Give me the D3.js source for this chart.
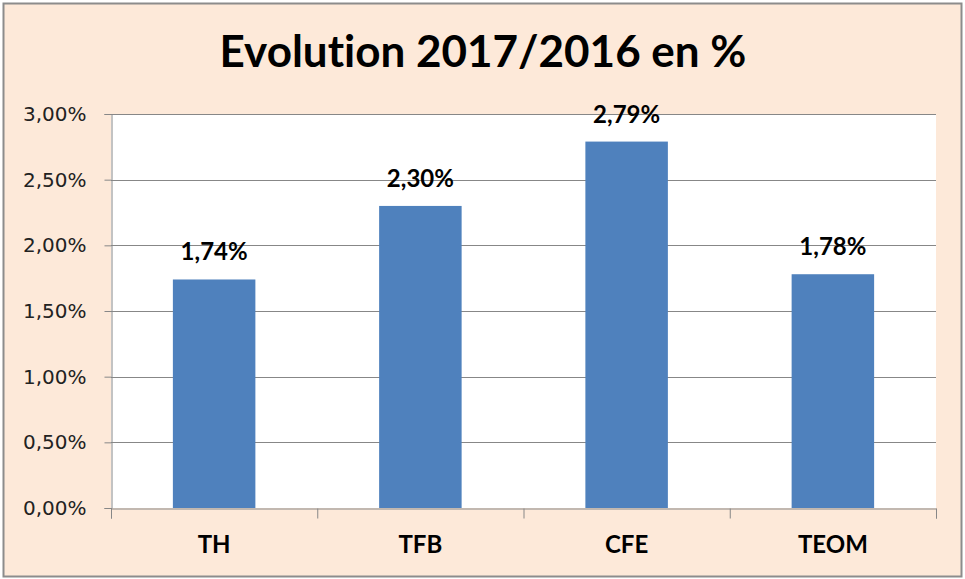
<!DOCTYPE html>
<html>
<head>
<meta charset="utf-8">
<script src="https://cdn.jsdelivr.net/npm/d3@7"></script>
<style>
  body { margin: 0; background: #fff; }
  svg { display: block; }
  text { font-variant-ligatures: none; }
</style>
</head>
<body>
<script>
var width = 965,
    height = 579;

var categories = ["TH", "TFB", "CFE", "TEOM"];
var values = [1.74, 2.30, 2.79, 1.78];
var valueLabels = ["1,74%", "2,30%", "2,79%", "1,78%"];
var yTicks = [0, 0.5, 1, 1.5, 2, 2.5, 3];
var title = "Evolution 2017/2016 en %";

var plot = { left: 111, top: 114, right: 936, bottom: 508 };

var svg = d3.select("body").append("svg")
    .attr("width", width)
    .attr("height", height);

// chart area background + border
svg.append("rect")
    .attr("x", 3.5).attr("y", 3.5)
    .attr("width", 958).attr("height", 573)
    .style("fill", "#fde9d9")
    .style("stroke", "#8c8c8c")
    .style("stroke-width", 2);

svg.append("rect")
    .attr("x", plot.left).attr("y", plot.top)
    .attr("width", plot.right - plot.left).attr("height", plot.bottom - plot.top)
    .style("fill", "#fff");

var x = d3.scaleBand()
    .domain(categories)
    .range([plot.left, plot.right])
    .paddingInner(0.6)
    .paddingOuter(0.3);

var y = d3.scaleLinear()
    .domain([0, 3])
    .range([plot.bottom, plot.top]);

// gridlines
svg.append("g").selectAll("line")
    .data(yTicks.slice(1))
    .enter().append("line")
    .attr("x1", plot.left).attr("x2", plot.right)
    .attr("y1", function (d) { return Math.round(y(d)) + 0.5; })
    .attr("y2", function (d) { return Math.round(y(d)) + 0.5; })
    .style("stroke", "#878787")
    .style("stroke-width", 1);

// bars
svg.append("g").selectAll("rect")
    .data(values)
    .enter().append("rect")
    .attr("x", function (d, i) { return x(categories[i]); })
    .attr("y", function (d) { return y(d); })
    .attr("width", x.bandwidth())
    .attr("height", function (d) { return y(0) - y(d); })
    .style("fill", "#4f81bd");

// y axis
var yAxis = svg.append("g")
    .attr("transform", "translate(" + (plot.left + 0.5) + ",0)")
    .call(d3.axisLeft(y)
        .tickValues(yTicks)
        .tickSize(7)
        .tickPadding(18)
        .tickFormat(function (d) { return d3.format(".2f")(d).replace(".", ",") + "%"; }));
yAxis.select(".domain").style("stroke", "#878787");
yAxis.selectAll(".tick line").style("stroke", "#878787");
yAxis.selectAll("text")
    .style("font-family", "'DejaVu Sans', Verdana, sans-serif")
    .style("font-size", "20px")
    .style("fill", "#222");

// x axis
var xAxis = svg.append("g")
    .attr("transform", "translate(0," + (plot.bottom + 0.5) + ")")
    .call(d3.axisBottom(d3.scalePoint().domain(d3.range(5)).range([plot.left, plot.right]))
        .tickSize(10)
        .tickFormat(""));
xAxis.select(".domain").style("stroke", "#878787");
xAxis.selectAll(".tick line").style("stroke", "#878787");

svg.append("g").selectAll("text")
    .data(categories)
    .enter().append("text")
    .attr("x", function (d) { return x(d) + x.bandwidth() / 2; })
    .attr("y", 553)
    .attr("text-anchor", "middle")
    .style("font-family", "Lato, 'Open Sans', sans-serif")
    .style("font-weight", "bold")
    .style("font-size", "24px")
    .style("fill", "#000")
    .text(function (d) { return d; });

// value labels
svg.append("g").selectAll("text")
    .data(values)
    .enter().append("text")
    .attr("x", function (d, i) { return x(categories[i]) + x.bandwidth() / 2; })
    .attr("y", function (d) { return y(d) - 19; })
    .attr("text-anchor", "middle")
    .style("font-family", "Lato, 'Open Sans', sans-serif")
    .style("font-weight", "bold")
    .style("font-size", "24px")
    .style("fill", "#000")
    .text(function (d, i) { return valueLabels[i]; });

// title
svg.append("text")
    .attr("x", 483)
    .attr("y", 67)
    .attr("text-anchor", "middle")
    .style("font-family", "Lato, 'Open Sans', sans-serif")
    .style("font-weight", "bold")
    .style("font-size", "44px")
    .style("fill", "#000")
    .text(title);
</script>
</body>
</html>
